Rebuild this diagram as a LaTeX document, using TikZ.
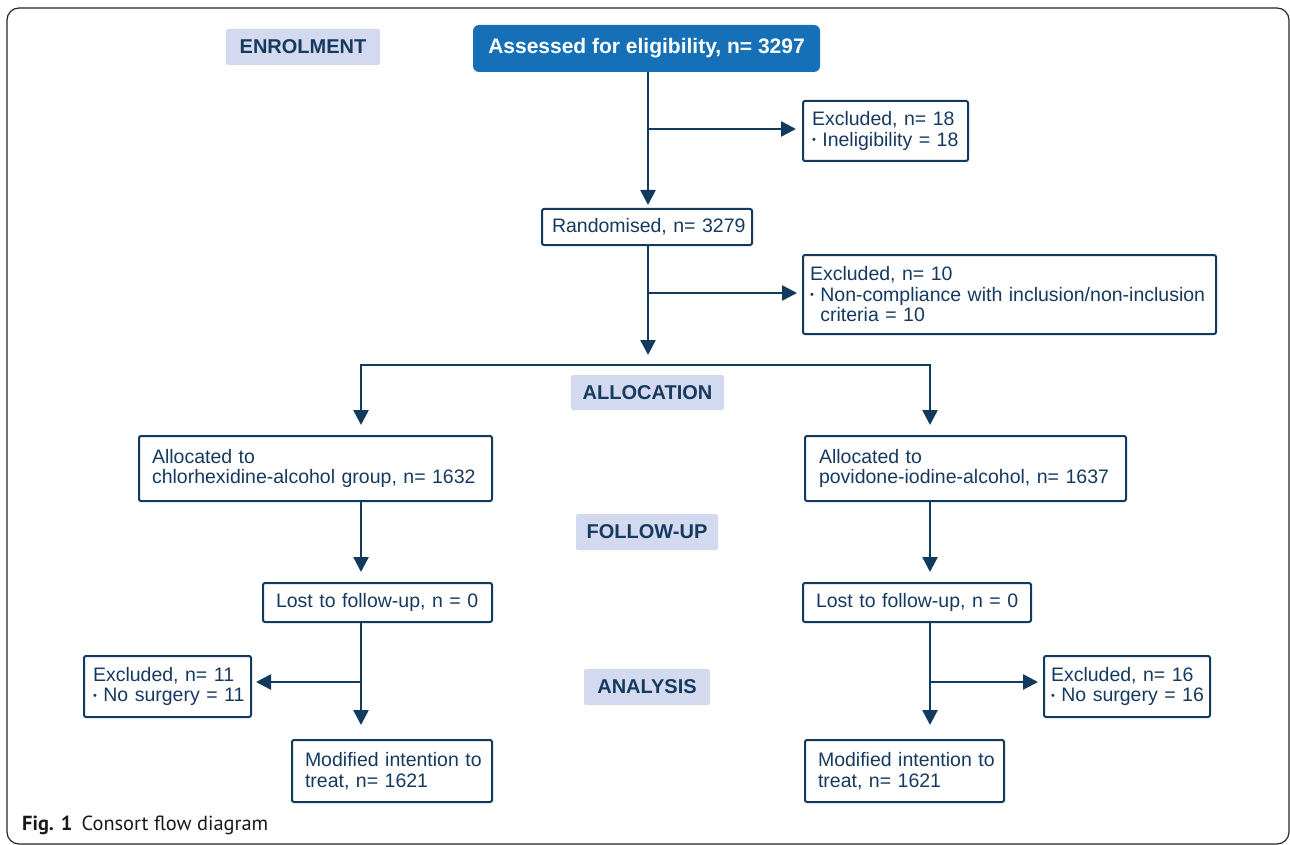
\documentclass[tikz,border=0pt]{standalone}
\usepackage{fontspec}
\setmainfont{Liberation Sans}
\newfontfamily\capfont{PT Sans}
\usetikzlibrary{arrows.meta}
\definecolor{navy}{HTML}{12395E}
\definecolor{txtnavy}{HTML}{163A5F}
\definecolor{hdrblue}{HTML}{1670B7}
\definecolor{lav}{HTML}{D3DAF0}
\newcommand{\oneline}[1]{\mbox{#1}}
\newcommand{\bul}{\raisebox{2.6pt}{\fontsize{11}{11}\selectfont\textbullet}\ }
\begin{document}
\begin{tikzpicture}[x=1pt,y=-1pt,
  box/.style={draw=navy, line width=2pt, rounded corners=2pt, fill=white, text=txtnavy,
    font=\fontsize{19.5}{20.5}\selectfont, align=left, inner ysep=0pt, anchor=north west},
  hdr/.style={fill=lav, rounded corners=2pt, text=txtnavy, inner sep=0pt,
    font=\bfseries\fontsize{20}{24}\selectfont, anchor=center},
  conn/.style={draw=navy, line width=2.5pt},
  arr/.style={conn, -{Triangle[width=15pt,length=15pt]}}
]
\useasboundingbox (0,0) rectangle (1290,845);
\draw[line width=1.2pt, color=black!85, rounded corners=12pt] (7,8) rectangle (1289,844);

% headers
\node[hdr, minimum width=154pt, minimum height=36pt] (enrol) at (303,47) {ENROLMENT};
\node[hdr, minimum width=153pt, minimum height=35pt] (alloc) at (647.5,392.5) {ALLOCATION};
\node[hdr, minimum width=142pt, minimum height=36pt] (follow) at (647,532) {FOLLOW-UP};
\node[hdr, minimum width=126pt, minimum height=36pt] (analysis) at (647,687) {ANALYSIS};

\node[fill=hdrblue, rounded corners=6pt, text=white, inner sep=0pt, minimum width=347pt, minimum height=47pt,
  font=\bfseries\fontsize{21}{24}\selectfont] (assess) at (646.5,48.5) {Assessed for eligibility, n= 3297};

% boxes
\node[box, inner xsep=9pt, text width=147pt, minimum height=60pt] (excl18) at (802,100)
  {\oneline{Excluded, n= 18}\\\oneline{\bul Ineligibility = 18}};
\node[box, inner xsep=10pt, text width=190pt, minimum height=36pt] (rand) at (541,208)
  {\oneline{Randomised, n= 3279}};
\node[box, inner xsep=7pt, text width=399pt, minimum height=79pt] (excl10) at (802,254)
  {\oneline{Excluded, n= 10}\\\oneline{\bul Non-compliance with inclusion/non-inclusion}\\\oneline{\phantom{\bul}criteria = 10}};
\node[box, inner xsep=13pt, text width=327pt, minimum height=65pt] (allocL) at (138,435)
  {\oneline{Allocated to}\\\oneline{chlorhexidine-alcohol group, n= 1632}};
\node[box, inner xsep=14pt, text width=293pt, minimum height=65pt] (allocR) at (804,435)
  {\oneline{Allocated to}\\\oneline{povidone-iodine-alcohol, n= 1637}};
\node[box, inner xsep=13pt, text width=203pt, minimum height=39pt] (lostL) at (262,582)
  {\oneline{Lost to follow-up, n = 0}};
\node[box, inner xsep=13pt, text width=202pt, minimum height=39pt] (lostR) at (802,582)
  {\oneline{Lost to follow-up, n = 0}};
\node[box, inner xsep=9pt, text width=149pt, minimum height=61pt] (excl11) at (83,655)
  {\oneline{Excluded, n= 11}\\\oneline{\bul No surgery = 11}};
\node[box, inner xsep=7pt, text width=152pt, minimum height=61pt] (excl16) at (1043,655)
  {\oneline{Excluded, n= 16}\\\oneline{\bul No surgery = 16}};
\node[box, inner xsep=13pt, text width=174pt, minimum height=62pt] (modL) at (291,739)
  {\oneline{Modified intention to}\\\oneline{treat, n= 1621}};
\node[box, inner xsep=13pt, text width=173pt, minimum height=62pt] (modR) at (804,739)
  {\oneline{Modified intention to}\\\oneline{treat, n= 1621}};

% connectors
\coordinate (j1) at (648,129);
\coordinate (j2) at (648,293);
\coordinate (j3) at (648,355);
\coordinate (hl) at (361,365);
\coordinate (hr) at (930,365);
\coordinate (j4) at (361,682);
\coordinate (j5) at (930,682);

\draw[arr, shorten >=3pt] (assess.south -| j1) -- (rand.north -| j1);
\draw[arr, shorten >=6pt] (j1) -- (excl18.west |- j1);
\draw[arr] (rand.south -| j3) -- (j3);
\draw[arr, shorten >=5pt] (j2) -- (excl10.west |- j2);
\draw[conn, line cap=rect] (hl) -- (hr);
\draw[arr, shorten >=10pt] (hl) -- (allocL.north -| hl);
\draw[arr, shorten >=10pt] (hr) -- (allocR.north -| hr);
\draw[arr, shorten >=10pt] (allocL.south -| hl) -- (lostL.north -| hl);
\draw[arr, shorten >=10pt] (allocR.south -| hr) -- (lostR.north -| hr);
\draw[arr, shorten >=14pt] (lostL.south -| hl) -- (modL.north -| hl);
\draw[arr, shorten >=14pt] (lostR.south -| hr) -- (modR.north -| hr);
\draw[arr, shorten >=4pt] (j4) -- (excl11.east |- j4);
\draw[arr, shorten >=5pt] (j5) -- (excl16.west |- j5);

% caption
\node[anchor=base west, inner sep=0pt, font=\capfont\fontsize{20.4}{24}\selectfont, text=black!90] (cap) at (22,830)
  {\textbf{Fig. 1}\hspace{0.45em}Consort flow diagram};
\end{tikzpicture}
\end{document}
